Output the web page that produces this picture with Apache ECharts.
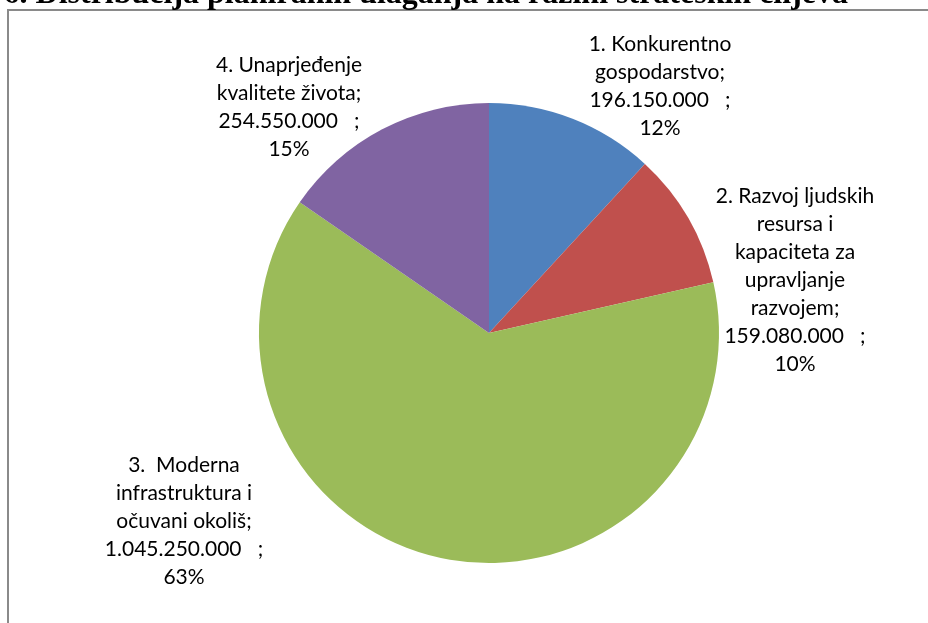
<!DOCTYPE html>
<html>
<head>
<meta charset="utf-8">
<script src="https://cdn.jsdelivr.net/npm/echarts@6/dist/echarts.min.js"></script>
<style>
  html, body { margin: 0; padding: 0; background: #fff; }
  #main { width: 928px; height: 623px; }
</style>
</head>
<body>
<div id="main"></div>
<script>
// podaci: strateški ciljevi i planirana ulaganja
var ciljevi = [
	'1. Konkurentno\ngospodarstvo;',
	'2. Razvoj ljudskih\nresursa i\nkapaciteta za\nupravljanje\nrazvojem;',
	'3.  Moderna\ninfrastruktura i\nočuvani okoliš;',
	'4. Unaprjeđenje\nkvalitete života;'
];
var ulaganja = [196150000, 159080000, 1045250000, 254550000];
var boje = ['#4F81BD', '#C0504D', '#9BBB59', '#8064A2'];
var naslov = '6. Distribucija planiranih ulaganja na razini strateških ciljeva';

// položaji oznaka (središte teksta)
var labelPos = [[660, 86], [795, 280], [184, 521], [289, 107]];

function formatBroj(v){
	return String(v).replace(/\B(?=(\d{3})+(?!\d))/g, '.');
}

var myChart = echarts.init(document.getElementById('main'));

var podaci = [];
for (var i = 0; i < ciljevi.length; i++) {
	podaci.push({ name: ciljevi[i], value: ulaganja[i] });
}

var option = {
	color: boje,
	animation: false,
	graphic: [
		{
			type: 'rect',
			shape: { x: 8, y: 10, width: 940, height: 640 },
			style: { fill: 'none', stroke: '#8a8a8a', lineWidth: 2 }
		},
		{
			type: 'text',
			x: 848,
			y: 11,
			style: {
				text: naslov,
				fill: '#000',
				font: 'bold 32px "Liberation Serif", serif',
				textAlign: 'right',
				textVerticalAlign: 'bottom'
			}
		}
	],
	series: [
		{
			type: 'pie',
			center: [489, 333],
			radius: [0, 230],
			startAngle: 90,
			clockwise: true,
			silent: true,
			itemStyle: { borderWidth: 0 },
			label: {
				show: true,
				position: 'outside',
				color: '#000',
				fontFamily: 'Lato',
				fontSize: 21,
				lineHeight: 28,
				align: 'center',
				formatter: function(p){
					return p.name + '\n' + formatBroj(p.value) + '   ;\n' + Math.round(p.percent) + '%';
				}
			},
			labelLine: { show: false },
			labelLayout: function(params){
				var pos = labelPos[params.dataIndex];
				return { x: pos[0], y: pos[1], align: 'center', verticalAlign: 'middle' };
			},
			data: podaci
		}
	]
};

myChart.setOption(option);
</script>
</body>
</html>
